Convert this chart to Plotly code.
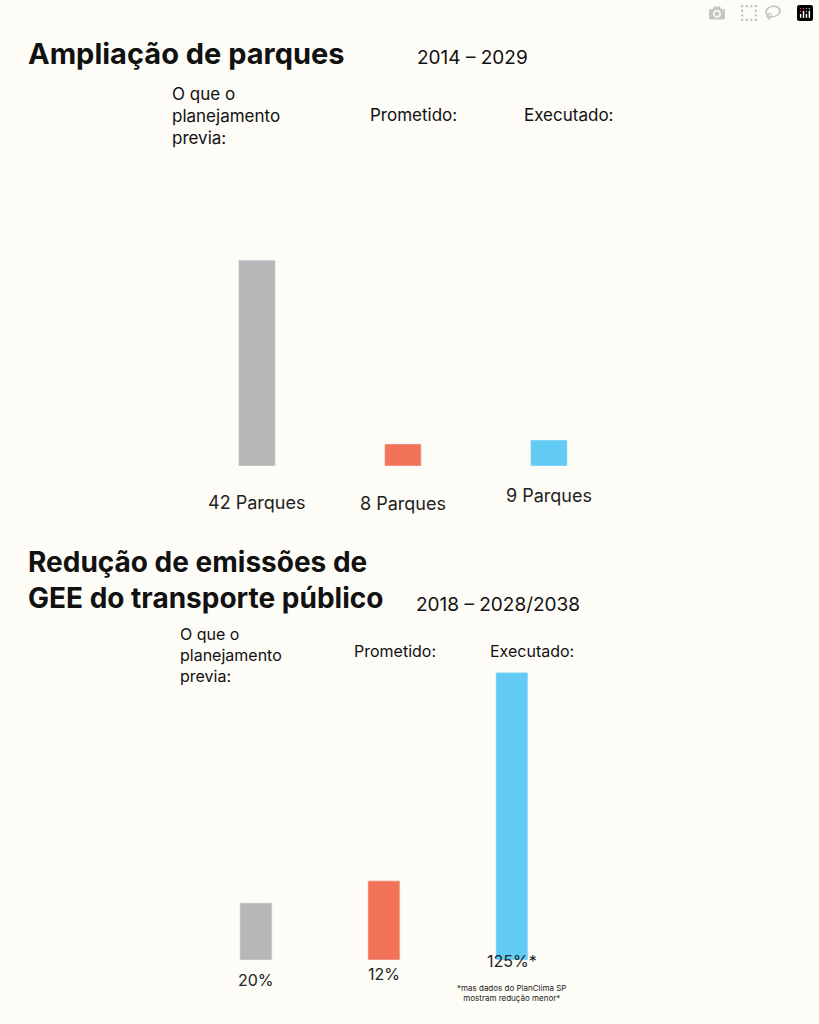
import plotly.graph_objects as go

BG = "#fdfcf6"
FONT = "Inter"
colors = ["#b7b7b7", "#f37358", "#61cbf4"]

# top chart: parks
parks_labels = ["42 Parques", "8 Parques", "9 Parques"]
parks_heights = [42, 4.5, 5.3]          # visual bar heights as drawn
# bottom chart: GEE emissions
gee_labels = ["20%", "12%", "125%*"]
gee_heights = [24.8, 34.4, 125]         # visual bar heights as drawn
headers = ["O que o<br>planejamento<br>previa:", "Prometido:", "Executado:"]

H = 1024.0
def py(px):
    return 1 - px / H

fig = go.Figure()
fig.add_bar(x=[0, 1, 2], y=parks_heights, marker_color=colors, width=0.25,
            xaxis="x", yaxis="y", hoverinfo="skip")
fig.add_bar(x=[0, 1, 2], y=gee_heights, marker_color=colors, width=0.25,
            xaxis="x2", yaxis="y2", hoverinfo="skip")

ax = dict(visible=False, fixedrange=True)
fig.update_layout(
    width=819, height=1024, margin=dict(l=0, r=0, t=0, b=0),
    paper_bgcolor=BG, plot_bgcolor=BG, showlegend=False,
    font=dict(family=FONT, color="#222"),
    xaxis=dict(ax, range=[-1.76, 3.85], domain=[0, 1]),
    yaxis=dict(ax, range=[0, 53.3], domain=[py(466), py(205)]),
    xaxis2=dict(ax, range=[-2.0, 4.4], domain=[0, 1], anchor="y2"),
    yaxis2=dict(ax, range=[0, 130.4], domain=[py(960), py(660)], anchor="x2"),
)

ann = []
def txt(x, y, s, size=17, xref="paper", xanchor="left", yanchor="middle", **kw):
    ann.append(dict(x=x, y=y, text=s, xref=xref, yref="paper", showarrow=False,
                    xanchor=xanchor, yanchor=yanchor, align="left",
                    font=dict(size=size, family=FONT, color="#111"), **kw))

txt(26 / 819, py(53), "<b>Ampliação de parques</b>", size=29)
txt(415 / 819, py(57), "2014 – 2029", size=19)
txt(26 / 819, py(562), "<b>Redução de emissões de</b>", size=28)
txt(26 / 819, py(598), "<b>GEE do transporte público</b>", size=28)
txt(414 / 819, py(604), "2018 – 2028/2038", size=19)

# headers
txt(170 / 819, py(82), headers[0], yanchor="top")
txt(368 / 819, py(115), headers[1])
txt(522 / 819, py(115), headers[2])
txt(178 / 819, py(622), headers[0], size=16, yanchor="top")
txt(352 / 819, py(651), headers[1], size=16)
txt(488 / 819, py(651), headers[2], size=16)

# value labels
for i, (s, y) in enumerate(zip(parks_labels, [502, 503, 495])):
    ann.append(dict(x=i, xref="x", y=py(y), yref="paper", text=s, showarrow=False,
                    font=dict(size=18, family=FONT, color="#222")))
for i, (s, y) in enumerate(zip(gee_labels, [992, 986, 973])):
    ann.append(dict(x=i, xref="x2", y=py(y), yref="paper", text=s, showarrow=False,
                    font=dict(size=16, family=FONT, color="#222")))
ann.append(dict(x=2, xref="x2", y=py(1005), yref="paper", showarrow=False,
                text="*mas dados do PlanClima SP<br>mostram redução menor*",
                font=dict(size=8, family=FONT, color="#222")))
fig.update_layout(annotations=ann)

fig.write_html("out.html", post_script="document.body.style.margin='0';")
